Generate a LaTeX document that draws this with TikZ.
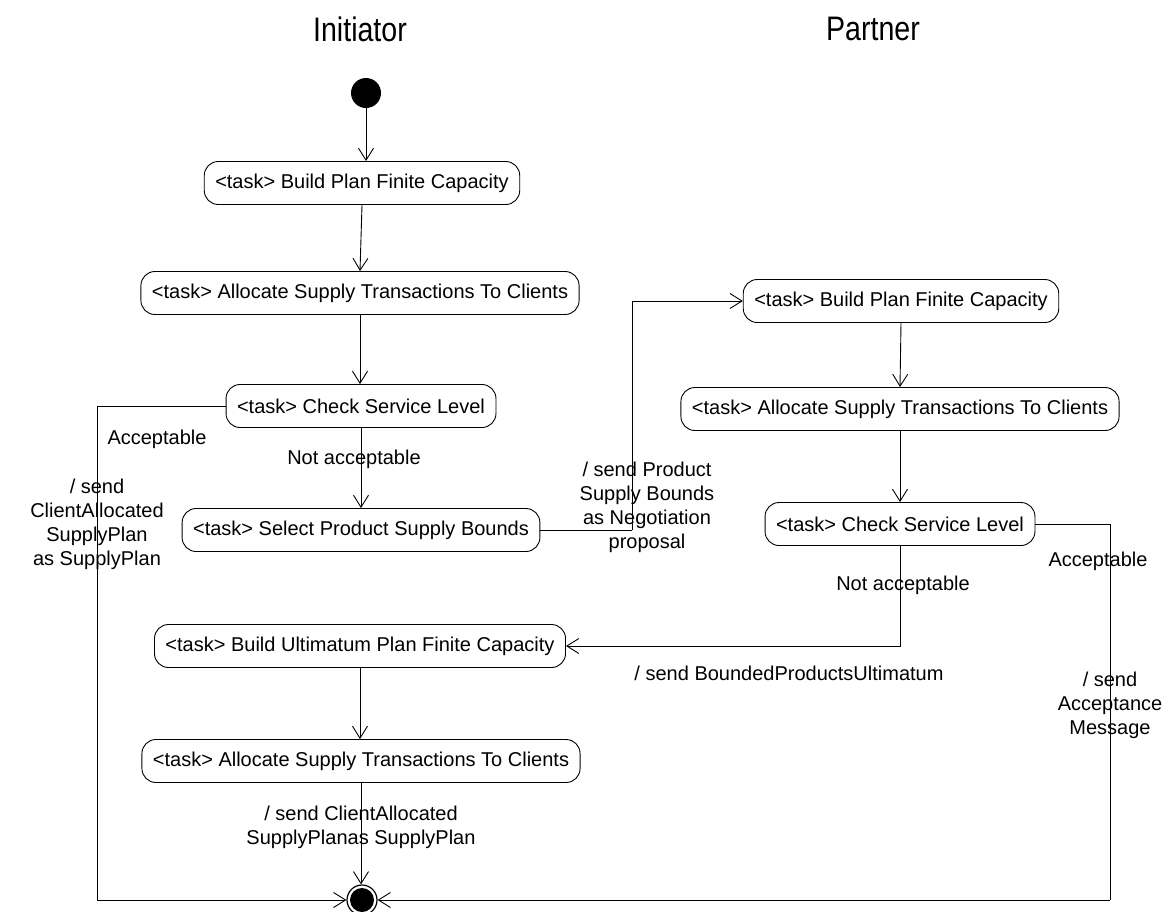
\documentclass[tikz,border=0pt]{standalone}
\usepackage{fontspec}
\setmainfont{Liberation Sans}
\usetikzlibrary{arrows.meta}

\begin{document}
\begin{tikzpicture}[x=1pt, y=-1pt,
  taskbox/.style={draw, rounded corners=14pt, line width=0.9pt, inner xsep=11pt,
    minimum height=43pt, font=\fontsize{20}{24}\selectfont},
  lbl/.style={font=\fontsize{20}{24}\selectfont, align=center, inner sep=0pt},
  lane/.style={font=\fontsize{34}{40}\selectfont, inner sep=0pt},
  flow/.style={line width=0.9pt, -{Straight Barb[length=12pt, width=15pt, line width=0.9pt]}},
  wire/.style={line width=0.9pt}]

\useasboundingbox (0,0) rectangle (1169,911);

% swimlane headings
\node[lane] (hInit) at (360,29) {\scalebox{0.84}[1]{Initiator}};
\node[lane] (hPart) at (873,29) {\scalebox{0.84}[1]{Partner}};

% initial and final states
\node[circle, fill=black, minimum size=30pt, inner sep=0pt] (start) at (366,93) {};
\node[circle, draw, line width=1.2pt, fill=white, minimum size=30pt, inner sep=0pt,
  path picture={\fill[black] (path picture bounding box.center) circle (12pt);}] (end) at (362,900) {};

% initiator activities
\node[taskbox] (b1) at (362,183) {<task> Build Plan Finite Capacity};
\node[taskbox] (b2) at (360,293) {<task> Allocate Supply Transactions To Clients};
\node[taskbox] (b3) at (361,406) {<task> Check Service Level};
\node[taskbox] (b4) at (361,530) {<task> Select Product Supply Bounds};
\node[taskbox] (b5) at (360,646) {<task> Build Ultimatum Plan Finite Capacity};
\node[taskbox] (b6) at (361,761) {<task> Allocate Supply Transactions To Clients};

% partner activities
\node[taskbox] (p1) at (901,301) {<task> Build Plan Finite Capacity};
\node[taskbox] (p2) at (900,409) {<task> Allocate Supply Transactions To Clients};
\node[taskbox] (p3) at (900,524) {<task> Check Service Level};

% bend points
\coordinate (lc) at (97,900);
\coordinate (rc) at (1110,900);
\coordinate (nb) at (632,530);

% transitions
\draw[flow] (start) -- (start |- b1.north);
\draw[flow] (b1.south) -- (b2.north);
\draw[flow] (b2.south) -- (b2.south |- b3.north);
\draw[flow] (b3.south) -- (b3.south |- b4.north);
\draw[flow] (b5.south) -- (b5.south |- b6.north);
\draw[flow] (b6.south) -- (b6.south |- end.north);
\draw[wire] (b3.west) -| (lc);
\draw[flow] (lc) -- (end);
\draw[wire] (b4.east) -- (nb);
\draw[flow] (nb) |- (p1.west);
\draw[flow] (p1.south) -- (p2.north);
\draw[flow] (p2.south) -- (p2.south |- p3.north);
\draw[flow] (p3.south) |- (b5.east);
\draw[wire] (p3.east) -| (rc);
\draw[flow] (rc) -- (end);

% transition labels
\node[lbl] (l1) at (157,439) {Acceptable};
\node[lbl] (l2) at (354,459) {Not acceptable};
\node[lbl] (l3) at (97,524) {/ send\\ClientAllocated\\SupplyPlan\\as SupplyPlan};
\node[lbl] (l4) at (647,507) {/ send Product\\Supply Bounds\\as Negotiation\\proposal};
\node[lbl] (l5) at (903,585) {Not acceptable};
\node[lbl] (l6) at (789,673) {/ send BoundedProductsUltimatum};
\node[lbl] (l7) at (1098,561) {Acceptable};
\node[lbl] (l8) at (1110,705) {/ send\\Acceptance\\Message};
\node[lbl] (l9) at (361,827) {/ send ClientAllocated\\SupplyPlanas SupplyPlan};

\end{tikzpicture}
\end{document}
